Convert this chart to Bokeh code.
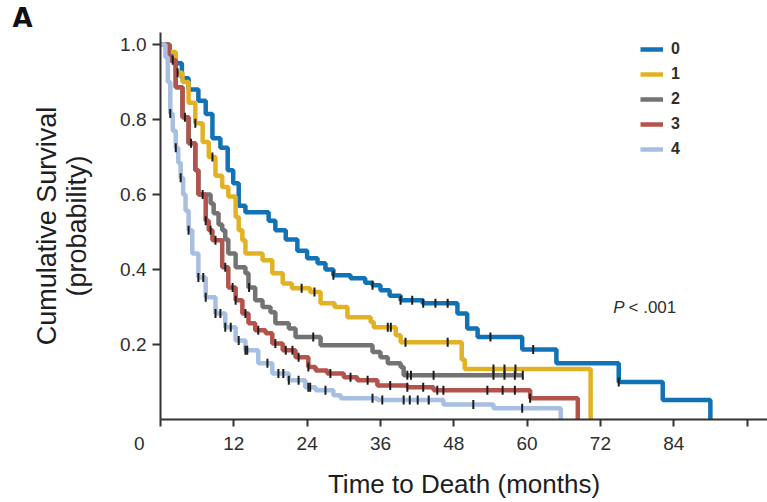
import numpy as np
from bokeh.plotting import figure
from bokeh.models import Legend, LegendItem, Label, Range1d, FixedTicker, PrintfTickFormatter
from bokeh.embed import file_html
from bokeh.resources import INLINE

# ---- data (months, cumulative survival) ----
groups = ["0", "1", "2", "3", "4"]
colors = ["#1272b6", "#e2b224", "#737373", "#b4534c", "#a7bfe0"]

t0 = [0, 1.5, 2.4, 3.5, 4.6, 6.2, 7.4, 8.5, 9.8, 11, 11.9, 12.8, 13.9, 17.7, 18.8, 20.5, 22.4, 24, 25.7, 27,
      28.3, 31.1, 33.5, 34.7, 36, 37.5, 39.3, 42.9, 48.6, 50.2, 51.9, 59.2, 64.8, 75, 82.2, 90]
s0 = [1.0, 0.97, 0.95, 0.91, 0.88, 0.85, 0.815, 0.75, 0.725, 0.665, 0.63, 0.57, 0.553, 0.53, 0.505, 0.48, 0.45, 0.43, 0.417, 0.4,
      0.385, 0.377, 0.365, 0.358, 0.345, 0.33, 0.318, 0.31, 0.283, 0.243, 0.22, 0.187, 0.15, 0.1, 0.052, 0.0]
c0 = [28.3, 34.7, 39.3, 41.2, 43, 45, 47, 54, 61, 75]

t1 = [0, 1.3, 2.5, 3.6, 4.6, 5.7, 6.9, 7.9, 9, 10.1, 11.1, 12.3, 12.8, 13.4, 13.9, 16.7, 18.3, 20, 21.5, 24.5,
      26.2, 28.5, 30.6, 34.4, 34.9, 38.5, 39.3, 49.3, 49.8, 70.4]
s1 = [1.0, 0.98, 0.925, 0.9, 0.845, 0.79, 0.74, 0.7, 0.65, 0.62, 0.595, 0.54, 0.505, 0.478, 0.443, 0.425, 0.39, 0.363, 0.35, 0.34,
      0.31, 0.3, 0.273, 0.26, 0.246, 0.225, 0.206, 0.16, 0.135, 0.0]
c1 = [2.8, 5.7, 8.5, 23.1, 25.2, 37.2, 37.7, 40.1, 47, 54.5, 56.3, 58.1]

t2 = [0, 1.3, 2.5, 3.6, 4.6, 5.7, 6.2, 8.2, 8.7, 9.5, 10.1, 10.6, 11.1, 12.3, 13.9, 14.4, 15.5, 16.7, 18, 18.8,
      21, 22.1, 26.2, 34.7, 36, 37.2, 39.3, 39.8, 59.3]
s2 = [1.0, 0.958, 0.886, 0.806, 0.737, 0.665, 0.6, 0.576, 0.55, 0.52, 0.505, 0.48, 0.443, 0.406, 0.39, 0.352, 0.318, 0.3, 0.286, 0.257,
      0.243, 0.22, 0.198, 0.18, 0.166, 0.15, 0.14, 0.118, 0.118]
c2 = [6.9, 14.5, 25, 40.4, 41, 44.7, 54.5, 56.3, 58, 59.3]

t3 = [0, 1.3, 2.5, 3.6, 4.6, 5.7, 6.2, 7.4, 7.9, 8.5, 10.1, 11.1, 12.3, 13.4, 14.4, 15.5, 17.2, 18.3, 20, 22.1,
      24.2, 25.4, 27.3, 30, 32.2, 35.5, 40.4, 44.7, 60.5, 68.3]
s3 = [1.0, 0.958, 0.886, 0.806, 0.737, 0.665, 0.6, 0.53, 0.505, 0.478, 0.406, 0.352, 0.318, 0.283, 0.257, 0.238, 0.23, 0.203, 0.185, 0.166,
      0.14, 0.131, 0.123, 0.113, 0.105, 0.091, 0.086, 0.078, 0.057, 0.0]
c3 = [2, 4, 5, 7.4, 8.2, 9, 10.6, 11.8, 12.3, 13.9, 16, 18.8, 20.5, 21.6, 22.6, 24.2, 27.8, 31.1, 33.9, 37.6,
      40.4, 43, 45.3, 46.3, 53.5, 56, 58, 60.5]

t4 = [0, 0.8, 1.2, 1.6, 2.0, 2.5, 2.9, 3.3, 3.7, 4.1, 4.6, 5.2, 6.2, 7.4, 9, 10.6, 12.3, 13.9, 16, 18.3,
      21, 23.7, 25.4, 28.3, 29.5, 35.5, 46.3, 54.5, 65.5]
s4 = [1.0, 0.966, 0.9, 0.816, 0.77, 0.725, 0.685, 0.645, 0.6, 0.557, 0.505, 0.443, 0.379, 0.326, 0.283, 0.246, 0.211, 0.185, 0.15, 0.123,
      0.105, 0.086, 0.078, 0.065, 0.057, 0.052, 0.04, 0.03, 0.0]
c4 = [1.6, 2.5, 3.3, 4.6, 6.2, 7, 7.4, 9, 9.8, 10.6, 11.5, 12.8, 13.9, 14.2, 17.5, 19.3, 20.1, 21, 22.6, 24.2,
      24.5, 27, 34.7, 36.3, 39.8, 40.8, 42.1, 43.9, 51.2, 59.2]

x_ticks = [0, 12, 24, 36, 48, 60, 72, 84, 96]
y_ticks = [0.2, 0.4, 0.6, 0.8, 1.0]

times = [t0, t1, t2, t3, t4]
survs = [s0, s1, s2, s3, s4]
cens = [c0, c1, c2, c3, c4]

FONT = "Liberation Sans"
TXT = "#2e2e2e"
NBSP = "\u00a0"

p = figure(width=767, height=502, x_range=Range1d(0, 99.35), y_range=Range1d(0, 1.032),
           output_backend="svg", toolbar_location=None, title="A",
           min_border_left=160, min_border_right=0, min_border_top=32, min_border_bottom=83)
p.outline_line_color = None
p.xgrid.visible = False
p.ygrid.visible = False
p.background_fill_color = "white"

p.title.align = "left"
p.title.offset = -148
p.title.standoff = 0
p.title.text_font = "DejaVu Sans"
p.title.text_font_size = "26px"
p.title.text_font_style = "bold"
p.title.text_color = "#111111"

items = []
for g, c, t, s in zip(groups, colors, times, survs):
    r = p.step(t, s, mode="after", line_color=c, line_width=4.5)
    items.append(LegendItem(label=g, renderers=[r]))

for t, s, cc in zip(times, survs, cens):
    ta = np.array(t)
    sa = np.array(s)
    idx = np.searchsorted(ta, np.array(cc), side="right") - 1
    ys = sa[idx]
    p.scatter(cc, ys, marker="dash", angle=np.pi / 2, size=9, line_color="#1c1c1c", line_width=2)

legend = Legend(items=items, location=(480, 260), orientation="vertical",
                glyph_width=23, glyph_height=20, spacing=5, padding=0, margin=0,
                label_standoff=8, label_text_font=FONT, label_text_font_size="16px",
                label_text_font_style="bold", label_text_color=TXT,
                border_line_color=None, background_fill_alpha=0)
p.add_layout(legend, "center")

# axes
for ax in (p.xaxis[0], p.yaxis[0]):
    ax.axis_line_color = "#333333"
    ax.axis_line_width = 2
    ax.major_tick_line_color = "#333333"
    ax.major_tick_line_width = 2
    ax.minor_tick_line_color = None
    ax.major_tick_in = 0
    ax.major_label_text_font = FONT
    ax.major_label_text_font_size = "19px"
    ax.major_label_text_color = TXT
    ax.axis_label_text_font = FONT
    ax.axis_label_text_font_style = "normal"
    ax.axis_label_text_color = "#1e1e1e"

p.xaxis.ticker = FixedTicker(ticks=x_ticks)
p.xaxis.major_label_overrides = {0: "0" + NBSP * 8, 96: ""}
p.xaxis.major_tick_out = 7
p.xaxis.major_label_standoff = 6
p.xaxis.axis_label = "Time to Death (months)"
p.xaxis.axis_label_text_font_size = "26px"
p.xaxis.axis_label_standoff = 12

p.yaxis.ticker = FixedTicker(ticks=y_ticks)
p.yaxis.formatter = PrintfTickFormatter(format="%.1f")
p.yaxis.major_tick_out = 8
p.yaxis.major_label_standoff = 6
p.yaxis.axis_label = "Cumulative Survival\n(probability)"
p.yaxis.axis_label_text_font_size = "27px"
p.yaxis.axis_label_text_line_height = 1.0
p.yaxis.axis_label_standoff = 25

p.add_layout(Label(x=74.1, y=0.299, text="P", text_align="left", text_baseline="alphabetic",
                   text_font=FONT, text_font_size="17px", text_font_style="italic", text_color=TXT))
p.add_layout(Label(x=76.6, y=0.299, text="< .001", text_align="left", text_baseline="alphabetic",
                   text_font=FONT, text_font_size="17px", text_color=TXT))

open("out.html", "w").write(file_html(p, INLINE))
